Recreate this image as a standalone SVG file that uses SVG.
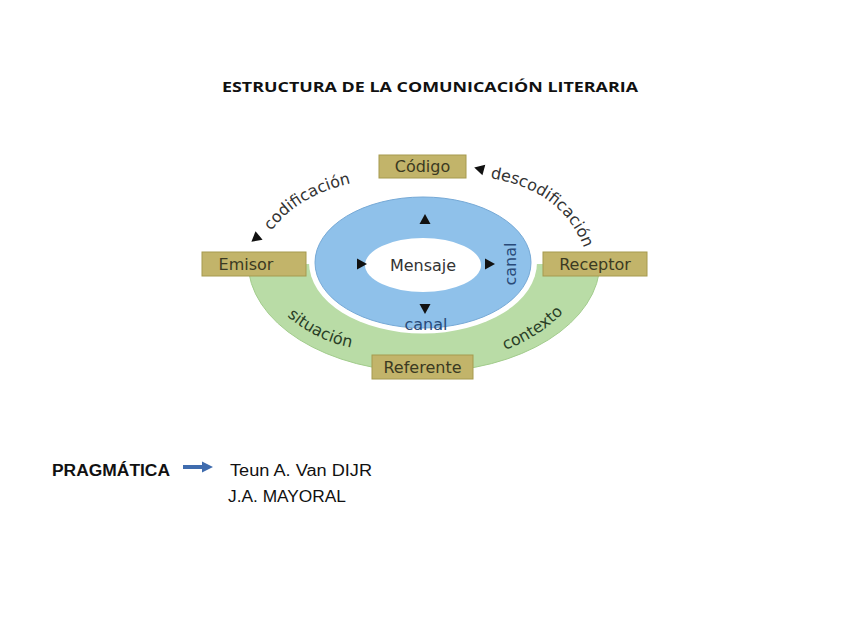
<svg xmlns="http://www.w3.org/2000/svg" xmlns:xlink="http://www.w3.org/1999/xlink" width="848" height="636" viewBox="0 0 848 636">
<style>
.box{fill:#c2b46a;stroke:#a69a4e;stroke-width:1}
.bt{font-family:"DejaVu Sans",sans-serif;font-size:16px;fill:#3b3a22;text-anchor:middle}
.lab{font-family:"DejaVu Sans",sans-serif;font-size:16px;fill:#333}
.glab{font-family:"DejaVu Sans",sans-serif;font-size:16px;fill:#2a3f26}
.blab{font-family:"DejaVu Sans",sans-serif;font-size:16px;fill:#294a78}
.cal{font-family:"Liberation Sans",Arial,sans-serif;font-size:16px;fill:#111}
.tri{fill:#111}
</style>
<defs>
<path id="tri" d="M-4,-5.5 L6,0 L-4,5.5 Z"/>
<clipPath id="lower"><rect x="0" y="264" width="848" height="200"/></clipPath>
<path id="pCod" d="M271 231 Q 303 189 370 180"/>
<path id="pDes" d="M490 178 Q 562 190 584 248"/>
<path id="pSit" d="M287 316 Q 318 343 360 349"/>
<path id="pCon" d="M505 350 Q 548 334 574 300"/>
</defs>
<rect width="848" height="636" fill="#fff"/>
<text x="430" y="92" font-family="'Open Sans','Liberation Sans',sans-serif" font-size="15" font-weight="bold" fill="#111" text-anchor="middle" textLength="416" lengthAdjust="spacingAndGlyphs">ESTRUCTURA DE LA COMUNICACIÓN LITERARIA</text>

<g id="rings">
<ellipse cx="424" cy="262" rx="176" ry="110" fill="#b9dca6" stroke="#a2cc8c" stroke-width="1" clip-path="url(#lower)"/>
<ellipse cx="423" cy="262.5" rx="114" ry="71" fill="#fff"/>
<ellipse cx="423" cy="262.5" rx="108" ry="65.5" fill="#8fc1ea" stroke="#76a9d6" stroke-width="1"/>
</g>

<g id="mensaje">
<ellipse cx="423" cy="265" rx="58" ry="27" fill="#fff"/>
<text x="423" y="271" class="bt" style="fill:#333">Mensaje</text>
</g>

<g id="canal-labels">
<text x="426" y="330" class="blab" text-anchor="middle">canal</text>
<text transform="translate(516,264) rotate(-90)" class="blab" text-anchor="middle">canal</text>
</g>

<g id="connectors">
<use xlink:href="#tri" class="tri" transform="translate(256,238) rotate(140)"/>
<use xlink:href="#tri" class="tri" transform="translate(480,169) rotate(195)"/>
<use xlink:href="#tri" class="tri" transform="translate(425,220) rotate(-90)"/>
<use xlink:href="#tri" class="tri" transform="translate(361,264) rotate(0)"/>
<use xlink:href="#tri" class="tri" transform="translate(489,264) rotate(0)"/>
<use xlink:href="#tri" class="tri" transform="translate(425,308) rotate(90)"/>
<text class="lab"><textPath xlink:href="#pCod">codificación</textPath></text>
<text class="lab"><textPath xlink:href="#pDes">descodificación</textPath></text>
<text class="glab"><textPath xlink:href="#pSit">situación</textPath></text>
<text class="glab"><textPath xlink:href="#pCon">contexto</textPath></text>
</g>

<g id="codigo">
<rect x="379" y="155" width="87" height="23" class="box"/>
<text x="422.5" y="172" class="bt">Código</text>
</g>
<g id="emisor">
<rect x="202" y="252" width="104" height="24" class="box"/>
<text x="246" y="270" class="bt">Emisor</text>
</g>
<g id="receptor">
<rect x="543" y="252" width="104" height="24" class="box"/>
<text x="595" y="270" class="bt">Receptor</text>
</g>
<g id="referente">
<rect x="372" y="355" width="101" height="24" class="box"/>
<text x="422.5" y="373" class="bt">Referente</text>
</g>

<g id="pragmatica">
<text x="52" y="476" class="cal" font-weight="bold" textLength="118" lengthAdjust="spacingAndGlyphs">PRAGMÁTICA</text>
<path d="M183 467 H203" stroke="#3f6cae" stroke-width="4"/>
<path d="M202 461.5 L213 467 L202 472.5 Z" fill="#3f6cae"/>
<text x="230" y="476" class="cal" textLength="142" lengthAdjust="spacingAndGlyphs">Teun A. Van DIJR</text>
<text x="228" y="502" class="cal" textLength="118" lengthAdjust="spacingAndGlyphs">J.A. MAYORAL</text>
</g>
</svg>
